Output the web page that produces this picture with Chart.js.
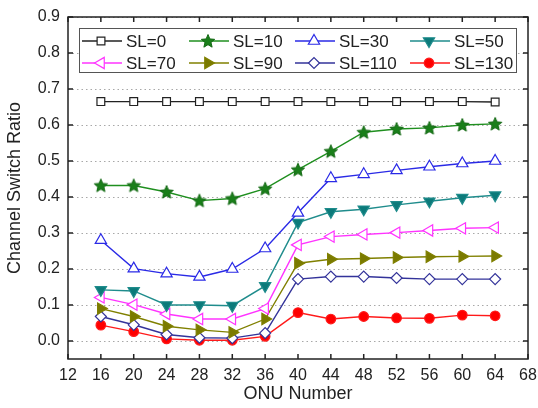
<!DOCTYPE html>
<html>
<head>
<meta charset="utf-8">
<script src="https://cdn.jsdelivr.net/npm/chart.js@4.4.0/dist/chart.umd.min.js"></script>
<style>
html,body{margin:0;padding:0;background:#fff}
</style>
</head>
<body>
<canvas id="myChart" width="538" height="408"></canvas>
<script>
const onu=[16,20,24,28,32,36,40,44,48,52,56,60,64];
const xTicks=[12,16,20,24,28,32,36,40,44,48,52,56,60,64,68];
const yTicks=[0,0.1,0.2,0.3,0.4,0.5,0.6,0.7,0.8,0.9];
const labels=["SL=0","SL=10","SL=30","SL=50","SL=70","SL=90","SL=110","SL=130"];

const sl0=[0.665,0.665,0.665,0.665,0.665,0.665,0.665,0.665,0.665,0.665,0.665,0.665,0.664];
const sl10=[0.432,0.432,0.414,0.390,0.396,0.423,0.476,0.527,0.580,0.589,0.592,0.600,0.603];
const sl30=[0.280,0.201,0.187,0.178,0.200,0.257,0.356,0.452,0.463,0.474,0.484,0.493,0.500];
const sl50=[0.142,0.139,0.100,0.100,0.098,0.153,0.329,0.359,0.366,0.378,0.388,0.398,0.405];
const sl70=[0.121,0.101,0.075,0.061,0.061,0.090,0.267,0.290,0.296,0.301,0.307,0.313,0.315];
const sl90=[0.090,0.068,0.041,0.031,0.024,0.061,0.216,0.227,0.229,0.232,0.234,0.235,0.236];
const sl110=[0.068,0.045,0.018,0.009,0.008,0.022,0.172,0.179,0.179,0.175,0.172,0.172,0.172];
const sl130=[0.044,0.026,0.006,0.002,0.002,0.013,0.079,0.061,0.068,0.064,0.063,0.072,0.070];

function pts(vals){
    return onu.map((x,i)=>({x:x,y:vals[i]}));
}

// filled 5 point star for SL=10
function starImage(fill,stroke,r){
    const c=document.createElement("canvas");
    const s=Math.ceil(r*2+2);
    c.width=s;c.height=s;
    const g=c.getContext("2d");
    g.beginPath();
    for(let i=0;i<10;i++){
        const rr=i%2===0?r:r*0.45;
        const a=-Math.PI/2+i*Math.PI/5;
        const px=s/2+rr*Math.cos(a), py=s/2+rr*Math.sin(a)+0.5;
        if(i===0)g.moveTo(px,py);else g.lineTo(px,py);
    }
    g.closePath();
    g.fillStyle=fill;g.fill();
    g.strokeStyle=stroke;g.lineWidth=1;g.stroke();
    return c;
}
const star=starImage("#1a7f1a","#136813",7);

function series(label,vals,color,fill,style,rot,radius){
    return {
        label:label,
        data:pts(vals),
        borderColor:color,
        backgroundColor:fill,
        pointBackgroundColor:fill,
        pointBorderColor:color,
        pointStyle:style,
        pointRotation:rot,
        pointRadius:radius,
        pointHoverRadius:radius,
        pointBorderWidth:1.2,
        borderWidth:1.4,
        tension:0
    };
}

const datasets=[
    series(labels[0],sl0,"#222222","#ffffff","rect",0,5.5),
    series(labels[1],sl10,"#1f8f1f","#1a7f1a",star,0,7),
    series(labels[2],sl30,"#2a2ae6","#ffffff","triangle",0,6.5),
    series(labels[3],sl50,"#1f8c8c","#0c7a7a","triangle",180,6.5),
    series(labels[4],sl70,"#ff33ff","#ffffff","triangle",270,6.5),
    series(labels[5],sl90,"#808000","#7a7a00","triangle",90,6.5),
    series(labels[6],sl110,"#33339a","#ffffff","rectRot",0,5.5),
    series(labels[7],sl130,"#ff1a1a","#ff0000","circle",0,4.8)
];

// dotted horizontal grid at the y ticks
const dottedGrid={
    id:"dottedGrid",
    beforeDatasetsDraw(chart){
        const ctx=chart.ctx, a=chart.chartArea, ys=chart.scales.y;
        ctx.save();
        ctx.strokeStyle="#a8a8a8";
        ctx.lineWidth=1;
        ctx.setLineDash([1.5,3]);
        ctx.beginPath();
        yTicks.forEach(v=>{
            const py=Math.round(ys.getPixelForValue(v))+0.5;
            ctx.moveTo(a.left,py);ctx.lineTo(a.right,py);
        });
        ctx.stroke();
        ctx.restore();
    }
};

// legend box inside the plot, two rows of four
const legendBox={
    id:"legendBox",
    afterDraw(chart){
        const ctx=chart.ctx;
        const colX=[82,189,295,410];
        const rowY=[41,63];
        ctx.save();
        ctx.fillStyle="#fff";
        ctx.fillRect(79.5,28.5,437,44);
        ctx.strokeStyle="#555";
        ctx.lineWidth=1;
        ctx.strokeRect(79.5,28.5,437,44);
        chart.data.datasets.forEach((ds,i)=>{
            const lx=colX[i%4], ly=rowY[Math.floor(i/4)];
            ctx.strokeStyle=ds.borderColor;
            ctx.lineWidth=1.4;
            ctx.beginPath();ctx.moveTo(lx,ly);ctx.lineTo(lx+40,ly);ctx.stroke();
            ctx.fillStyle=ds.pointBackgroundColor;
            ctx.strokeStyle=ds.pointBorderColor;
            ctx.lineWidth=ds.pointBorderWidth;
            Chart.helpers.drawPoint(ctx,{pointStyle:ds.pointStyle,rotation:ds.pointRotation,radius:ds.pointRadius,borderWidth:ds.pointBorderWidth},lx+19,ly);
            ctx.fillStyle="#222";
            ctx.font="17px 'Liberation Sans', Arial, sans-serif";
            ctx.textBaseline="middle";
            ctx.textAlign="left";
            ctx.fillText(ds.label,lx+44,ly+1);
        });
        ctx.restore();
    }
};

// box frame with inward ticks on all four sides
const frame={
    id:"frame",
    afterDraw(chart){
        const ctx=chart.ctx, a=chart.chartArea;
        const xs=chart.scales.x, ys=chart.scales.y;
        ctx.save();
        ctx.strokeStyle="#222";
        ctx.lineWidth=1.5;
        ctx.strokeRect(a.left,a.top,a.right-a.left,a.bottom-a.top);
        ctx.beginPath();
        xTicks.forEach(v=>{
            const px=xs.getPixelForValue(v);
            ctx.moveTo(px,a.bottom);ctx.lineTo(px,a.bottom-5);
            ctx.moveTo(px,a.top);ctx.lineTo(px,a.top+5);
        });
        yTicks.forEach(v=>{
            const py=ys.getPixelForValue(v);
            ctx.moveTo(a.left,py);ctx.lineTo(a.left+5,py);
            ctx.moveTo(a.right,py);ctx.lineTo(a.right-5,py);
        });
        ctx.stroke();
        ctx.restore();
    }
};

Chart.defaults.font.family="'Liberation Sans', Arial, sans-serif";
Chart.defaults.color="#222";

let lineChart=new Chart("myChart",{
    type:"line",
    data:{datasets:datasets},
    options:{
        responsive:false,
        animation:false,
        layout:{padding:{top:17,right:10,left:0,bottom:0}},
        plugins:{
            legend:{display:false},
            tooltip:{enabled:false}
        },
        scales:{
            x:{
                type:"linear",
                min:12,max:68,
                afterBuildTicks:(s)=>{s.ticks=xTicks.map(v=>({value:v}));},
                afterFit:(s)=>{s.height=49;s.paddingLeft=0;s.paddingRight=0;},
                ticks:{font:{size:16},padding:7,autoSkip:false,maxRotation:0},
                grid:{display:false,drawTicks:false},
                border:{display:false},
                title:{display:true,text:"ONU Number",font:{size:18},padding:{top:0,bottom:3}}
            },
            y:{
                min:-0.05,max:0.9,
                afterBuildTicks:(s)=>{s.ticks=yTicks.map(v=>({value:v}));},
                afterFit:(s)=>{s.width=68;s.paddingTop=0;s.paddingBottom=0;},
                ticks:{font:{size:16},padding:8,callback:(v)=>v.toFixed(1)},
                grid:{display:false,drawTicks:false},
                border:{display:false},
                title:{display:true,text:"Channel Switch Ratio",font:{size:18},padding:{top:4,bottom:0}}
            }
        }
    },
    plugins:[dottedGrid,legendBox,frame]
});
</script>
</body>
</html>
